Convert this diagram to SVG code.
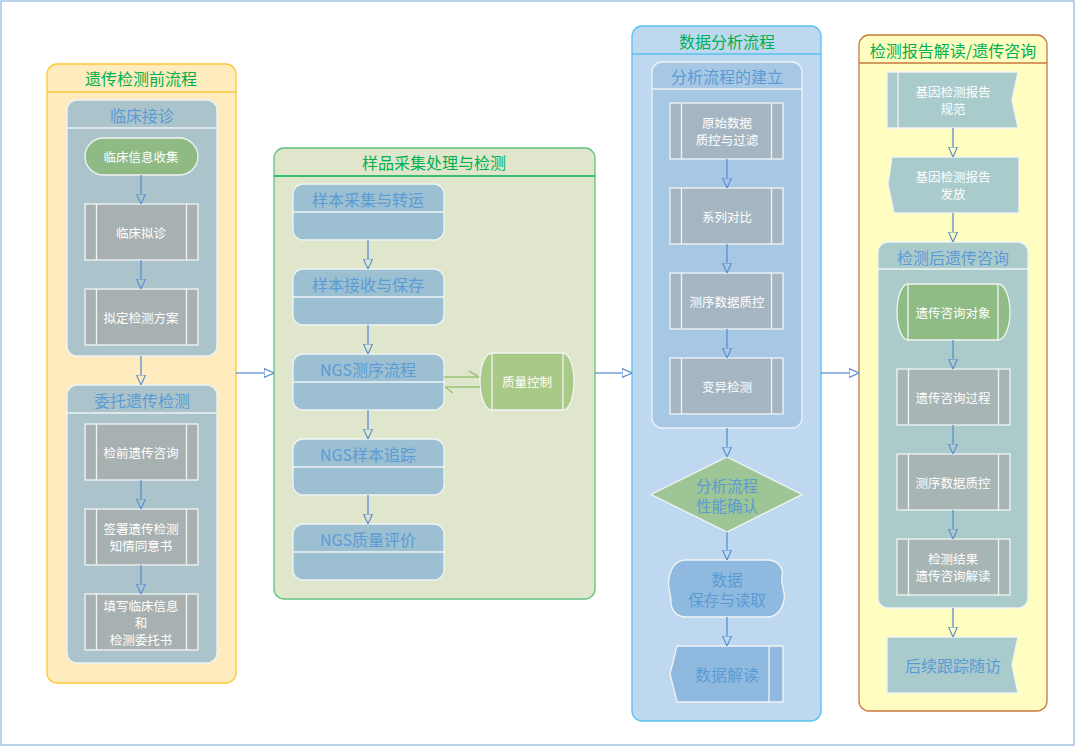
<svg xmlns="http://www.w3.org/2000/svg" width="1076" height="747" viewBox="0 0 1076 747">
<defs>
<marker id="ah" viewBox="0 0 10 10" refX="0" refY="5" markerWidth="10" markerHeight="10" markerUnits="userSpaceOnUse" orient="auto">
<path d="M0,0.5 L10,5 L0,9.5 Z" fill="none" stroke="#5a8fcf" stroke-width="1.2"/>
</marker>
</defs>
<style>
text{font-family:"Microsoft YaHei","Noto Sans CJK SC",sans-serif;text-anchor:middle;dominant-baseline:central}
.lt{font-size:16px;fill:#00b050}
.st{font-size:16px;fill:#5b9bd5}
.nt{font-size:12.5px;fill:#ffffff}
.bt{font-size:16px;fill:#5b9bd5}
.b2{font-size:15.5px;fill:#5b9bd5}
.sub{stroke:#eef3f5;stroke-width:1.3}
.pp{stroke:#f2f4f4;stroke-width:1.3}
.conn{stroke:#5a8fcf;stroke-width:1.3;fill:none;marker-end:url(#ah)}
.qc{stroke:#9bc47a;stroke-width:1.5;fill:none}
</style>
<rect x="1" y="1" width="1073" height="744" fill="#ffffff" stroke="#8ab6e0" stroke-width="1.2"/>

<!-- Lane 1 -->
<g id="lane1">
<rect x="47" y="64" width="189" height="619" rx="10" fill="#feecbe" stroke="#fdc830" stroke-width="1.3"/>
<line x1="47" y1="92" x2="236" y2="92" stroke="#fdc830" stroke-width="1.3"/>
<text class="lt" x="141" y="78">遗传检测前流程</text>
</g>
<g id="sub-linchuang">
<rect x="67" y="100" width="150" height="256" rx="10" fill="#abc4cb" class="sub"/>
<line x1="67" y1="128" x2="217" y2="128" class="sub"/>
<text class="st" x="142" y="115">临床接诊</text>
</g>
<g id="n-xinxi">
<rect x="85" y="138" width="113" height="37" rx="18.5" fill="#8fba84" class="pp"/>
<text class="nt" x="141" y="156.5">临床信息收集</text>
</g>
<g id="n-nizhen">
<rect x="85" y="204" width="113" height="56" fill="#a8b1b2" class="pp"/>
<line x1="96.5" y1="204" x2="96.5" y2="260" class="pp"/><line x1="186.5" y1="204" x2="186.5" y2="260" class="pp"/>
<text class="nt" x="141" y="232">临床拟诊</text>
</g>
<g id="n-fangan">
<rect x="85" y="289" width="113" height="56" fill="#a8b1b2" class="pp"/>
<line x1="96.5" y1="289" x2="96.5" y2="345" class="pp"/><line x1="186.5" y1="289" x2="186.5" y2="345" class="pp"/>
<text class="nt" x="141" y="317">拟定检测方案</text>
</g>
<g id="sub-weituo">
<rect x="67" y="385" width="150" height="278" rx="10" fill="#abc4cb" class="sub"/>
<line x1="67" y1="413" x2="217" y2="413" class="sub"/>
<text class="st" x="142" y="400">委托遗传检测</text>
</g>
<g id="n-jianqian">
<rect x="85" y="424" width="113" height="56" fill="#a8b1b2" class="pp"/>
<line x1="96.5" y1="424" x2="96.5" y2="480" class="pp"/><line x1="186.5" y1="424" x2="186.5" y2="480" class="pp"/>
<text class="nt" x="141" y="452">检前遗传咨询</text>
</g>
<g id="n-qianshu">
<rect x="85" y="509" width="113" height="56" fill="#a8b1b2" class="pp"/>
<line x1="96.5" y1="509" x2="96.5" y2="565" class="pp"/><line x1="186.5" y1="509" x2="186.5" y2="565" class="pp"/>
<text class="nt" x="141" y="528.5">签署遗传检测</text>
<text class="nt" x="141" y="545.5">知情同意书</text>
</g>
<g id="n-tianxie">
<rect x="85" y="594" width="113" height="56" fill="#a8b1b2" class="pp"/>
<line x1="96.5" y1="594" x2="96.5" y2="650" class="pp"/><line x1="186.5" y1="594" x2="186.5" y2="650" class="pp"/>
<text class="nt" x="141" y="605">填写临床信息</text>
<text class="nt" x="141" y="622">和</text>
<text class="nt" x="141" y="639">检测委托书</text>
</g>

<!-- Lane 2 -->
<g id="lane2">
<rect x="274" y="148" width="321" height="451" rx="10" fill="#e0e6cc" stroke="#5ec37e" stroke-width="1.3"/>
<line x1="274" y1="176" x2="595" y2="176" stroke="#00b050" stroke-width="1.3"/>
<text class="lt" x="434" y="162">样品采集处理与检测</text>
</g>
<g id="n-caiji">
<rect x="293" y="184" width="151" height="56" rx="10" fill="#9cc0d2" class="sub"/>
<line x1="293" y1="212" x2="444" y2="212" class="sub"/>
<text class="bt" x="368" y="199">样本采集与转运</text>
</g>
<g id="n-jieshou">
<rect x="293" y="269" width="151" height="56" rx="10" fill="#9cc0d2" class="sub"/>
<line x1="293" y1="297" x2="444" y2="297" class="sub"/>
<text class="bt" x="368" y="284">样本接收与保存</text>
</g>
<g id="n-cexu">
<rect x="293" y="354" width="151" height="56" rx="10" fill="#9cc0d2" class="sub"/>
<line x1="293" y1="382" x2="444" y2="382" class="sub"/>
<text class="bt" x="368" y="369">NGS测序流程</text>
</g>
<g id="n-zhuizong">
<rect x="293" y="439" width="151" height="56" rx="10" fill="#9cc0d2" class="sub"/>
<line x1="293" y1="467" x2="444" y2="467" class="sub"/>
<text class="bt" x="368" y="454">NGS样本追踪</text>
</g>
<g id="n-pingjia">
<rect x="293" y="524" width="151" height="56" rx="10" fill="#9cc0d2" class="sub"/>
<line x1="293" y1="552" x2="444" y2="552" class="sub"/>
<text class="bt" x="368" y="539">NGS质量评价</text>
</g>
<g id="n-qc">
<path d="M492,353 L563,353 A11,28.5 0 0 1 563,410 L492,410 A12,28.5 0 0 1 492,353 Z" fill="#a9c986" class="pp"/>
<line x1="492" y1="353" x2="492" y2="410" class="pp"/><line x1="563" y1="353" x2="563" y2="410" class="pp"/>
<text class="nt" x="527" y="381.5">质量控制</text>
</g>

<!-- Lane 3 -->
<g id="lane3">
<rect x="632" y="26" width="189" height="695" rx="10" fill="#bed9ef" stroke="#55c1f0" stroke-width="1.3"/>
<line x1="632" y1="54" x2="821" y2="54" stroke="#55c1f0" stroke-width="1.3"/>
<text class="lt" x="727" y="41">数据分析流程</text>
</g>
<g id="sub-jianli">
<rect x="652" y="62" width="150" height="366" rx="10" fill="#a6c8e4" class="sub"/>
<line x1="652" y1="89" x2="802" y2="89" class="sub"/>
<text class="st" x="727" y="76">分析流程的建立</text>
</g>
<g id="n-yuanshi">
<rect x="670" y="103" width="113" height="56" fill="#a5b5c2" class="pp"/>
<line x1="681.5" y1="103" x2="681.5" y2="159" class="pp"/><line x1="771.5" y1="103" x2="771.5" y2="159" class="pp"/>
<text class="nt" x="727" y="122.5">原始数据</text>
<text class="nt" x="727" y="139.5">质控与过滤</text>
</g>
<g id="n-duibi">
<rect x="670" y="188" width="113" height="56" fill="#a5b5c2" class="pp"/>
<line x1="681.5" y1="188" x2="681.5" y2="244" class="pp"/><line x1="771.5" y1="188" x2="771.5" y2="244" class="pp"/>
<text class="nt" x="727" y="216">系列对比</text>
</g>
<g id="n-zhikong3">
<rect x="670" y="273" width="113" height="56" fill="#a5b5c2" class="pp"/>
<line x1="681.5" y1="273" x2="681.5" y2="329" class="pp"/><line x1="771.5" y1="273" x2="771.5" y2="329" class="pp"/>
<text class="nt" x="727" y="301">测序数据质控</text>
</g>
<g id="n-bianyi">
<rect x="670" y="358" width="113" height="56" fill="#a5b5c2" class="pp"/>
<line x1="681.5" y1="358" x2="681.5" y2="414" class="pp"/><line x1="771.5" y1="358" x2="771.5" y2="414" class="pp"/>
<text class="nt" x="727" y="386">变异检测</text>
</g>
<g id="n-queren">
<polygon points="727,457 802,494.5 727,532 651,494.5" fill="#9dc596" class="pp"/>
<text class="b2" x="727" y="484.5">分析流程</text>
<text class="b2" x="727" y="504.5">性能确认</text>
</g>
<g id="n-baocun">
<path d="M686,560 L767,560 C778,560 784,568 782,576 C780,584 786,592 784,600 C782,610 776,617 767,617 L686,617 C677,617 671,610 671,602 C671,594 667,586 669,578 C671,568 676,560 686,560 Z" fill="#8fb9df" class="pp"/>
<text class="b2" x="727" y="578.5">数据</text>
<text class="b2" x="727" y="598.5">保存与读取</text>
</g>
<g id="n-jiedu">
<polygon points="677,646 783,646 783,702 677,702 670,674" fill="#8fb9df" class="pp"/>
<line x1="769" y1="646" x2="769" y2="702" class="pp"/>
<text class="bt" x="727" y="674">数据解读</text>
</g>

<!-- Lane 4 -->
<g id="lane4">
<rect x="859" y="35" width="188" height="676" rx="10" fill="#fffdc0" stroke="#c7783e" stroke-width="1.3"/>
<line x1="859" y1="63" x2="1047" y2="63" stroke="#c7783e" stroke-width="1.3"/>
<text class="lt" x="953" y="50">检测报告解读/遗传咨询</text>
</g>
<g id="n-guifan">
<polygon points="887,72 1018,72 1012,100 1018,128 887,128" fill="#aacbcb" class="pp"/>
<line x1="898" y1="72" x2="898" y2="128" class="pp"/>
<text class="nt" x="953" y="91">基因检测报告</text>
<text class="nt" x="953" y="108">规范</text>
</g>
<g id="n-fafang">
<polygon points="892,157 1019,157 1019,213 894,213 888,184" fill="#aacbcb" class="pp"/>
<text class="nt" x="953" y="176">基因检测报告</text>
<text class="nt" x="953" y="193">发放</text>
</g>
<g id="sub-jiancehou">
<rect x="878" y="242" width="150" height="366" rx="10" fill="#abcbcb" class="sub"/>
<line x1="878" y1="269" x2="1028" y2="269" class="sub"/>
<text class="st" x="953" y="257">检测后遗传咨询</text>
</g>
<g id="n-duixiang">
<path d="M908,284 L998,284 A12,28 0 0 1 998,340 L908,340 A11,28 0 0 1 908,284 Z" fill="#8fbb84" class="pp"/>
<line x1="908" y1="284" x2="908" y2="340" class="pp"/><line x1="998" y1="284" x2="998" y2="340" class="pp"/>
<text class="nt" x="953" y="312">遗传咨询对象</text>
</g>
<g id="n-guocheng">
<rect x="897" y="369" width="113" height="56" fill="#a7b5b4" class="pp"/>
<line x1="908.5" y1="369" x2="908.5" y2="425" class="pp"/><line x1="998.5" y1="369" x2="998.5" y2="425" class="pp"/>
<text class="nt" x="953" y="397">遗传咨询过程</text>
</g>
<g id="n-zhikong4">
<rect x="897" y="454" width="113" height="56" fill="#a7b5b4" class="pp"/>
<line x1="908.5" y1="454" x2="908.5" y2="510" class="pp"/><line x1="998.5" y1="454" x2="998.5" y2="510" class="pp"/>
<text class="nt" x="953" y="482">测序数据质控</text>
</g>
<g id="n-jieguo">
<rect x="897" y="539" width="113" height="56" fill="#a7b5b4" class="pp"/>
<line x1="908.5" y1="539" x2="908.5" y2="595" class="pp"/><line x1="998.5" y1="539" x2="998.5" y2="595" class="pp"/>
<text class="nt" x="953" y="558.5">检测结果</text>
<text class="nt" x="953" y="575.5">遗传咨询解读</text>
</g>
<g id="n-suifang">
<polygon points="887,637 1018,637 1012,665 1018,693 887,693" fill="#aacbcb" class="pp"/>
<text class="bt" x="953" y="665">后续跟踪随访</text>
</g>

<!-- Connectors -->
<g id="connectors">
<line class="conn" x1="141" y1="175" x2="141" y2="194"/>
<line class="conn" x1="141" y1="260" x2="141" y2="279"/>
<line class="conn" x1="141" y1="356" x2="141" y2="375"/>
<line class="conn" x1="141" y1="480" x2="141" y2="499"/>
<line class="conn" x1="141" y1="565" x2="141" y2="584"/>
<line class="conn" x1="236" y1="373" x2="264" y2="373"/>
<line class="conn" x1="368" y1="240" x2="368" y2="259"/>
<line class="conn" x1="368" y1="325" x2="368" y2="344"/>
<line class="conn" x1="368" y1="410" x2="368" y2="429"/>
<line class="conn" x1="368" y1="495" x2="368" y2="514"/>
<line class="conn" x1="595" y1="373" x2="622" y2="373"/>
<line class="conn" x1="727" y1="159" x2="727" y2="178"/>
<line class="conn" x1="727" y1="244" x2="727" y2="263"/>
<line class="conn" x1="727" y1="329" x2="727" y2="348"/>
<line class="conn" x1="727" y1="428" x2="727" y2="447"/>
<line class="conn" x1="727" y1="532" x2="727" y2="550"/>
<line class="conn" x1="727" y1="617" x2="727" y2="636"/>
<line class="conn" x1="821" y1="373" x2="849" y2="373"/>
<line class="conn" x1="953" y1="128" x2="953" y2="147"/>
<line class="conn" x1="953" y1="213" x2="953" y2="232"/>
<line class="conn" x1="953" y1="340" x2="953" y2="359"/>
<line class="conn" x1="953" y1="425" x2="953" y2="444"/>
<line class="conn" x1="953" y1="510" x2="953" y2="529"/>
<line class="conn" x1="953" y1="608" x2="953" y2="627"/>
<path class="qc" d="M444,377 L479,377 M469,371 L479,377"/>
<path class="qc" d="M480,387 L445,387 M445,387 L453,393"/>
</g>
</svg>
